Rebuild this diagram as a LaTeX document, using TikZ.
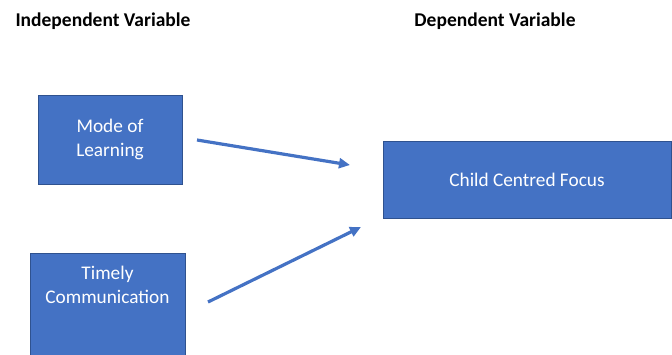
\documentclass[tikz,border=0pt]{standalone}
\usepackage{fontspec}
\setmainfont{Carlito}
\usepackage{xcolor}
\usetikzlibrary{arrows.meta, positioning}

\definecolor{boxblue}{HTML}{4472C4}
\definecolor{edgeblue}{HTML}{2F528F}

\begin{document}
\begin{tikzpicture}[
    x=1pt, y=-1pt,
    var/.style={rectangle, draw=edgeblue, fill=boxblue, line width=1pt,
                text=white, font=\fontsize{19.3}{24}\selectfont, align=center},
    head/.style={font=\fontsize{19.5}{22}\selectfont\bfseries},
    link/.style={draw=boxblue, line width=3.2pt,
                 -{Triangle[length=11pt, width=10pt]}}
  ]
  \useasboundingbox (0,0) rectangle (672,354);

  % column titles
  \node[head] (indep) at (103,21) {Independent Variable};
  \node[head] (dep)   at (495,21) {Dependent Variable};

  % variables
  \node[var, minimum width=144pt, minimum height=89pt] (mode) at (110,139.5) {Mode of\\Learning};
  \node[var, minimum width=155pt, minimum height=127pt] (timely) at (107.5,316.5) {};
  \node[text=white, font=\fontsize{19.3}{24}\selectfont, align=center,
        below=10pt of timely.north] (timelytxt) {Timely\\Communication};
  \node[var, minimum width=288pt, minimum height=77pt] (child) at (527,179.5) {Child Centred Focus};

  % links
  \coordinate (m1) at (197,140);
  \coordinate (m2) at (350,165);
  \coordinate (t1) at (208,302);
  \coordinate (t2) at (361,227);
  \draw[link] (m1) -- (m2);
  \draw[link] (t1) -- (t2);
\end{tikzpicture}
\end{document}
